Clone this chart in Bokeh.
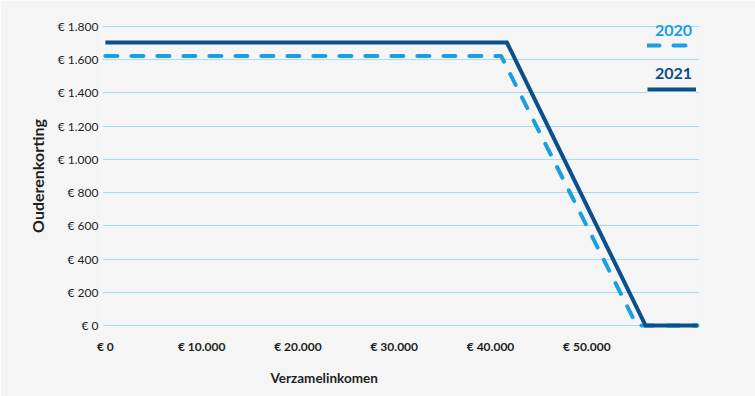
from bokeh.plotting import figure
from bokeh.models import FixedTicker, Legend, LegendItem, Title, Range1d, Label
from bokeh.embed import file_html
from bokeh.resources import INLINE

# --- data ---
income_2020 = [0, 41100, 55200, 61500]
korting_2020 = [1622, 1622, 0, 0]
income_2021 = [0, 41700, 56100, 61500]
korting_2021 = [1703, 1703, 0, 0]
series_names = ["2020", "2021"]

y_ticks = [0, 200, 400, 600, 800, 1000, 1200, 1400, 1600, 1800]
y_tick_labels = ["€ 0", "€ 200", "€ 400", "€ 600", "€ 800", "€ 1.000",
                 "€ 1.200", "€ 1.400", "€ 1.600", "€ 1.800"]
x_ticks = [0, 10000, 20000, 30000, 40000, 50000]
x_tick_labels = ["€ 0", "€ 10.000", "€ 20.000", "€ 30.000", "€ 40.000", "€ 50.000"]

BG = "#f5f5f5"
C2020 = "#1a9fe0"
C2021 = "#0b4f8c"
GRID = "#a6dbf3"
TXT = "#1e1e1e"
FONT = "Lato"

p = figure(width=755, height=396, output_backend="svg", toolbar_location=None,
           x_range=Range1d(-300, 61700), y_range=Range1d(-30, 1830),
           min_border_left=102, min_border_right=56, min_border_top=21,
           min_border_bottom=66)
p.background_fill_color = BG
p.border_fill_color = BG
p.outline_line_color = None

p.xgrid.grid_line_color = None
p.ygrid.grid_line_color = GRID
p.ygrid.grid_line_width = 1
p.ygrid.ticker = FixedTicker(ticks=y_ticks)

# y axis
p.yaxis.ticker = FixedTicker(ticks=y_ticks)
p.yaxis.major_label_overrides = dict(zip(y_ticks, y_tick_labels))
p.yaxis.axis_line_color = None
p.yaxis.major_tick_line_color = None
p.yaxis.minor_tick_line_color = None
p.yaxis.major_tick_out = 0
p.yaxis.major_tick_in = 0
p.yaxis.major_label_standoff = 4
p.yaxis.major_label_text_font = FONT
p.yaxis.major_label_text_font_size = "12px"
p.yaxis.major_label_text_color = TXT
p.yaxis.axis_label = "Ouderenkorting"
p.yaxis.axis_label_text_font = FONT
p.yaxis.axis_label_text_font_size = "16px"
p.yaxis.axis_label_text_font_style = "bold"
p.yaxis.axis_label_text_color = TXT
p.yaxis.axis_label_standoff = 8

# x axis
p.xaxis.ticker = FixedTicker(ticks=x_ticks)
p.xaxis.major_label_overrides = dict(zip(x_ticks, x_tick_labels))
p.xaxis.axis_line_color = None
p.xaxis.major_tick_line_color = None
p.xaxis.minor_tick_line_color = None
p.xaxis.major_tick_out = 0
p.xaxis.major_tick_in = 0
p.xaxis.major_label_standoff = 8
p.xaxis.major_label_text_font = FONT
p.xaxis.major_label_text_font_size = "12px"
p.xaxis.major_label_text_font_style = "bold"
p.xaxis.major_label_text_color = TXT

xtitle = Title(text="Verzamelinkomen", align="left", offset=168,
               text_font=FONT, text_font_size="13.5px", text_font_style="bold",
               text_color=TXT, standoff=22)
p.add_layout(xtitle, "below")

r2020 = p.line(income_2020, korting_2020, line_color=C2020, line_width=4,
               line_dash="12 14", line_cap="round", line_join="round")
r2021 = p.line(income_2021, korting_2021, line_color=C2021, line_width=4,
               line_cap="butt", line_join="miter")

legend_kw = dict(padding=19, margin=0, border_line_color=None,
                 background_fill_color=BG, background_fill_alpha=1.0,
                 glyph_width=49, glyph_height=10, label_height=10,
                 label_width=0, label_standoff=0, label_text_font_size="1px",
                 spacing=0)

leg1 = Legend(items=[LegendItem(label=" ", renderers=[r2020])],
              location=(545, 280), **legend_kw)
leg2 = Legend(items=[LegendItem(label=" ", renderers=[r2021])],
              location=(545, 236), **legend_kw)
p.add_layout(leg1, "center")
p.add_layout(leg2, "center")

label_kw = dict(x_units="screen", y_units="screen", text_align="center",
                text_baseline="middle", text_font=FONT, text_font_size="16px",
                text_font_style="bold")
p.add_layout(Label(x=571, y=300, text=series_names[0], text_color=C2020,
                   **label_kw), "center")
p.add_layout(Label(x=571, y=257, text=series_names[1], text_color=C2021,
                   **label_kw), "center")

open("out.html", "w").write(file_html(p, INLINE))
